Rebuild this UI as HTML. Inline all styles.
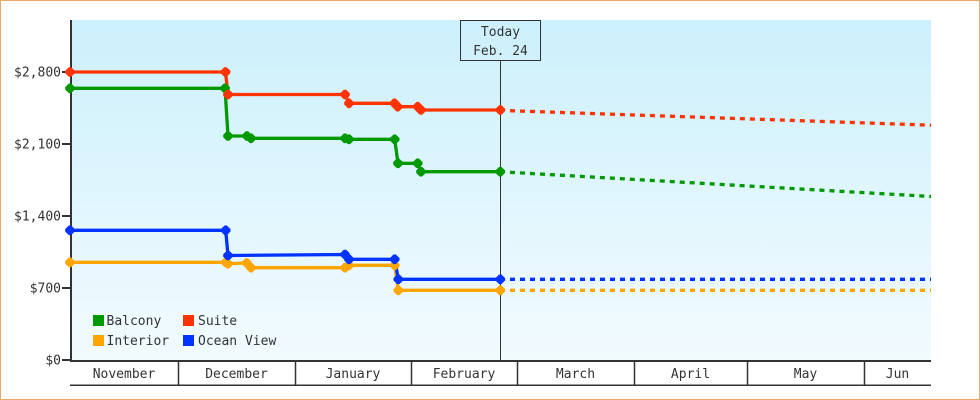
<!DOCTYPE html>
<html><head><meta charset="utf-8"><style>
html,body{margin:0;padding:0;background:#fff;}
svg{display:block;}
text{font-family:"DejaVu Sans Mono","Liberation Mono",monospace;font-size:13px;fill:#333;}
</style></head><body>
<svg width="980" height="400" viewBox="0 0 980 400" xmlns="http://www.w3.org/2000/svg">
<defs>
<linearGradient id="bg" x1="0" y1="0" x2="0" y2="1">
<stop offset="0" stop-color="#ccf0fc"/>
<stop offset="1" stop-color="#f2fbfe"/>
</linearGradient>
<clipPath id="pc"><rect x="60" y="10" width="871" height="360"/></clipPath>
<path id="m" d="M-1.2,-4.8L1.2,-4.8L4.8,-1.2L4.8,1.2L1.2,4.8L-1.2,4.8L-4.8,1.2L-4.8,-1.2Z"/>
</defs>
<rect x="0.5" y="0.5" width="979" height="399" fill="#fff" stroke="#e9a964" stroke-width="1"/>
<rect x="72" y="20" width="859" height="340" fill="url(#bg)"/>

<!-- today line & box -->
<line x1="500.5" y1="61" x2="500.5" y2="360" stroke="#333" stroke-width="1"/>
<rect x="460.5" y="20.5" width="80" height="40" fill="none" stroke="#333" stroke-width="1"/>
<text x="500.5" y="36" text-anchor="middle">Today</text>
<text x="500.5" y="55" text-anchor="middle">Feb. 24</text>

<!-- axes -->
<rect x="70" y="20" width="2" height="342" fill="#333"/>
<rect x="70" y="360" width="861" height="2" fill="#333"/>
<rect x="70" y="384.5" width="861" height="1.5" fill="#333"/>
<g fill="#333">
<rect x="62" y="71" width="8" height="2"/>
<rect x="62" y="143" width="8" height="2"/>
<rect x="62" y="215" width="8" height="2"/>
<rect x="62" y="287" width="8" height="2"/>
<rect x="62" y="359" width="8" height="2"/>
</g>
<g text-anchor="end">
<text x="61" y="76.5">$2,800</text>
<text x="61" y="148.5">$2,100</text>
<text x="61" y="220.5">$1,400</text>
<text x="61" y="292.5">$700</text>
<text x="61" y="364.5">$0</text>
</g>
<g stroke="#333" stroke-width="1.5">
<line x1="178.5" y1="362" x2="178.5" y2="385"/>
<line x1="295.5" y1="362" x2="295.5" y2="385"/>
<line x1="411.5" y1="362" x2="411.5" y2="385"/>
<line x1="517.5" y1="362" x2="517.5" y2="385"/>
<line x1="634.5" y1="362" x2="634.5" y2="385"/>
<line x1="747.5" y1="362" x2="747.5" y2="385"/>
<line x1="864.5" y1="362" x2="864.5" y2="385"/>
</g>
<g text-anchor="middle">
<text x="124" y="378">November</text>
<text x="236.5" y="378">December</text>
<text x="353" y="378">January</text>
<text x="464" y="378">February</text>
<text x="575.5" y="378">March</text>
<text x="690.5" y="378">April</text>
<text x="805.5" y="378">May</text>
<text x="897.5" y="378">Jun</text>
</g>

<g clip-path="url(#pc)" fill="none" stroke-width="3.3">
<!-- forecasts -->
<line x1="510" y1="172.3" x2="940" y2="197" stroke="#009900" stroke-dasharray="5,5"/>
<line x1="510" y1="290.3" x2="940" y2="290.3" stroke="#ffa500" stroke-dasharray="5,5"/>
<line x1="510" y1="279.3" x2="940" y2="279.3" stroke="#0033ff" stroke-dasharray="5,5"/>
<line x1="510" y1="110.7" x2="940" y2="125.5" stroke="#ff3300" stroke-dasharray="5,5"/>

<polyline stroke="#009900" points="70,88.3 225,88.3 228,136 247,136 251,138.3 345,138.3 349,139.3 394.7,139.3 398,163.3 417.7,163.3 421,171.7 500.3,171.7"/>
<polyline stroke="#ffa500" points="70,262.3 225.7,262.3 228,263.7 246.7,263 251,267.7 345,267.7 349,265.3 394.7,265.3 398.3,290.3 500.3,290.3"/>
<polyline stroke="#0033ff" points="70,230.3 225.7,230.3 228,255.5 345,254.5 349,259.3 394.7,259.3 398.3,279.3 500.3,279.3"/>
<polyline stroke="#ff3300" points="70,72 225.5,72 228,94.5 345,94.5 349,103.3 394.5,103.3 397.7,106.7 417.7,106.7 421,110 500.3,110"/>
</g>

<!-- markers -->
<g fill="#009900">
<use href="#m" x="70" y="88.3"/>
<use href="#m" x="225" y="88.3"/>
<use href="#m" x="228" y="136"/>
<use href="#m" x="247" y="136"/>
<use href="#m" x="251" y="138.3"/>
<use href="#m" x="345" y="138.3"/>
<use href="#m" x="349" y="139.3"/>
<use href="#m" x="394.7" y="139.3"/>
<use href="#m" x="398" y="163.3"/>
<use href="#m" x="417.7" y="163.3"/>
<use href="#m" x="421" y="171.7"/>
<use href="#m" x="500.3" y="171.7"/>
</g>
<g fill="#ffa500">
<use href="#m" x="70" y="262.3"/>
<use href="#m" x="225.7" y="262.3"/>
<use href="#m" x="228" y="263.7"/>
<use href="#m" x="246.7" y="263"/>
<use href="#m" x="251" y="267.7"/>
<use href="#m" x="345" y="267.7"/>
<use href="#m" x="349" y="265.3"/>
<use href="#m" x="394.7" y="265.3"/>
<use href="#m" x="398.3" y="290.3"/>
<use href="#m" x="500.3" y="290.3"/>
</g>
<g fill="#0033ff">
<use href="#m" x="70" y="230.3"/>
<use href="#m" x="225.7" y="230.3"/>
<use href="#m" x="228" y="255.5"/>
<use href="#m" x="345" y="254.5"/>
<use href="#m" x="349" y="259.3"/>
<use href="#m" x="394.7" y="259.3"/>
<use href="#m" x="398.3" y="279.3"/>
<use href="#m" x="500.3" y="279.3"/>
</g>
<g fill="#ff3300">
<use href="#m" x="70" y="72"/>
<use href="#m" x="225.5" y="72"/>
<use href="#m" x="228" y="94.5"/>
<use href="#m" x="345" y="94.5"/>
<use href="#m" x="349" y="103.3"/>
<use href="#m" x="394.5" y="103.3"/>
<use href="#m" x="397.7" y="106.7"/>
<use href="#m" x="417.7" y="106.7"/>
<use href="#m" x="421" y="110"/>
<use href="#m" x="500.3" y="110"/>
</g>

<!-- legend -->
<rect x="93" y="315" width="11" height="11" fill="#009900"/>
<text x="106.5" y="325">Balcony</text>
<rect x="183" y="315" width="11" height="11" fill="#ff3300"/>
<text x="198" y="325">Suite</text>
<rect x="93" y="335" width="11" height="11" fill="#ffa500"/>
<text x="106.5" y="345">Interior</text>
<rect x="183" y="335" width="11" height="11" fill="#0033ff"/>
<text x="198" y="345">Ocean View</text>
</svg>
</body></html>
